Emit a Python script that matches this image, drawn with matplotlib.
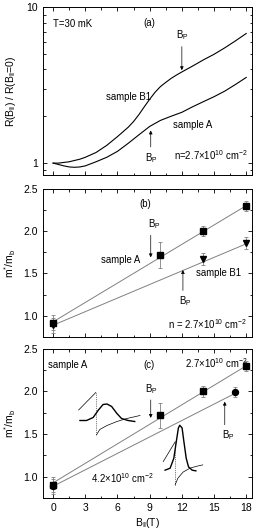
import matplotlib
matplotlib.use('Agg')
import matplotlib.pyplot as plt
import numpy as np
from matplotlib.ticker import MultipleLocator, FixedLocator, NullFormatter, LogLocator

plt.rcParams['font.family'] = ['Liberation Sans', 'DejaVu Sans']
plt.rcParams['mathtext.fontset'] = 'custom'
plt.rcParams['mathtext.rm'] = 'Liberation Sans'
plt.rcParams['mathtext.it'] = 'Liberation Sans'

# (a) resistance ratio vs parallel field
b_a = [0, 0.5, 1, 1.5, 2, 2.5, 3, 4, 5, 6, 7, 7.5, 8, 8.5, 9, 9.5, 10, 10.5, 11, 11.5, 12, 13, 14, 15, 16, 17, 18]
r_b1 = [1.0, 1.0, 1.01, 1.02, 1.04, 1.06, 1.09, 1.17, 1.30, 1.48, 1.70, 1.85, 2.05, 2.30, 2.57, 2.85, 3.1, 3.3, 3.5, 3.68, 3.85, 4.2, 4.6, 5.0, 5.5, 6.1, 6.8]
b_a2 = [0, 0.5, 1, 1.5, 2, 2.5, 3, 4, 5, 6, 7, 8, 9, 10, 11, 12, 13, 14, 15, 16, 17, 18]
r_a = [1.0, 0.98, 0.96, 0.945, 0.94, 0.945, 0.96, 1.02, 1.09, 1.19, 1.34, 1.52, 1.72, 1.88, 2.0, 2.12, 2.3, 2.48, 2.67, 2.9, 3.2, 3.55]

# (b) effective mass, n = 2.7e10
bA = [0, 10, 14, 18]
mA = [0.92, 1.72, 2.0, 2.3]
eA = [0.09, 0.15, 0.06, 0.06]
bB1 = [0, 14, 18]
mB1 = [0.89, 1.67, 1.86]
eB1 = [0.09, 0.07, 0.07]
fitA_x = [0, 18]
fitA_y = [0.93, 2.3]
fitB1_x = [0, 18]
fitB1_y = [0.89, 1.85]

# (c) sample A, two densities
b27 = [0, 10, 14, 18]
m27 = [0.91, 1.72, 2.0, 2.3]
e27 = [0.09, 0.15, 0.06, 0.06]
b42 = [0, 17]
m42 = [0.89, 1.99]
e42 = [0.09, 0.06]
fit27_x = [0, 18]
fit27_y = [0.93, 2.3]
fit42_x = [0, 17]
fit42_y = [0.89, 1.98]

# inset sketches (local 0..1 coords)
s1_diag = ([0.04, 0.30], [0.56, 0.91])
s1_dot = ([0.30, 0.30], [0.91, 0.06])
s1_peak = ([0.06, 0.16, 0.26, 0.34, 0.41, 0.47, 0.54, 0.62, 0.69, 0.79, 0.89],
           [0.35, 0.35, 0.41, 0.56, 0.67, 0.68, 0.63, 0.49, 0.39, 0.35, 0.33])
s1_low = ([0.31, 0.36, 0.47, 0.62, 0.77, 0.97], [0.06, 0.17, 0.25, 0.33, 0.39, 0.45])
s2_diag = ([0.07, 0.33], [0.40, 0.70])
s2_dot = ([0.33, 0.33], [0.70, 0.05])
s2_peak = ([0.11, 0.22, 0.30, 0.36, 0.40, 0.43, 0.48, 0.52, 0.57, 0.62, 0.70, 0.78],
           [0.27, 0.30, 0.45, 0.73, 0.91, 0.95, 0.91, 0.70, 0.45, 0.32, 0.27, 0.26])
s2_low = ([0.33, 0.39, 0.50, 0.65, 0.80, 0.93], [0.05, 0.15, 0.24, 0.30, 0.33, 0.35])

fs_tick = 7.5
fs_lab = 7.5
fs_txt = 6.9
gray = '#808080'

fig = plt.figure(figsize=(2.57, 5.30), dpi=100)
ax1 = fig.add_axes([0.167, 0.670, 0.814, 0.316])
ax2 = fig.add_axes([0.167, 0.364, 0.814, 0.280])
ax3 = fig.add_axes([0.167, 0.060, 0.814, 0.282])

for ax in (ax1, ax2, ax3):
    ax.set_xlim(-0.95, 18.55)
    ax.xaxis.set_major_locator(MultipleLocator(3))
    ax.xaxis.set_minor_locator(MultipleLocator(1.5))
    ax.tick_params(which='both', direction='in', top=True, right=True, labelsize=fs_tick, width=0.6)
    ax.tick_params(which='major', length=3)
    ax.tick_params(which='minor', length=1.8)
    for sp in ax.spines.values():
        sp.set_linewidth(0.7)

arrow = dict(arrowstyle='-|>', lw=0.5, color='black', mutation_scale=5, shrinkA=0, shrinkB=0)

# panel a
ax1.set_yscale('log')
ax1.plot(b_a, r_b1, color='black', lw=0.8)
ax1.plot(b_a2, r_a, color='black', lw=0.8)
ax1.set_ylim(0.84, 10)
ax1.yaxis.set_major_locator(FixedLocator([1, 10]))
ax1.set_yticklabels(['1', '10'])
ax1.yaxis.set_minor_locator(LogLocator(base=10, subs=np.arange(2, 10)))
ax1.yaxis.set_minor_formatter(NullFormatter())
ax1.set_xticklabels([])
ax1.set_ylabel(r'R(B$_{\|}$) / R(B$_{\|}$=0)', fontsize=fs_lab, labelpad=6)
ax1.text(0.0, 7.8, 'T=30 mK', fontsize=fs_txt, va='center')
ax1.text(9.0, 8.0, '(a)', fontsize=fs_txt, ha='center', va='center')
ax1.text(4.9, 2.66, 'sample B1', fontsize=fs_txt, va='center')
ax1.text(11.2, 1.76, 'sample A', fontsize=fs_txt, va='center')
ax1.text(18.1, 1.13, r'n=2.7$\times$10$^{10}$ cm$^{-2}$', fontsize=fs_txt, ha='right', va='center')
ax1.annotate('', xy=(12.0, 3.95), xytext=(12.0, 5.6), arrowprops=arrow)
ax1.text(12.0, 6.0, r'B$_{\rm P}$', fontsize=fs_txt, ha='center', va='bottom')
ax1.annotate('', xy=(9.1, 1.62), xytext=(9.1, 1.27), arrowprops=arrow)
ax1.text(9.2, 1.2, r'B$_{\rm P}$', fontsize=fs_txt, ha='center', va='top')

# panel b
ax2.plot(fitA_x, fitA_y, color=gray, lw=0.7)
ax2.plot(fitB1_x, fitB1_y, color=gray, lw=0.7)
ax2.errorbar(bA, mA, yerr=eA, fmt='s', color='black', ms=4, ecolor=gray, elinewidth=0.6, capsize=1.5, capthick=0.6)
ax2.errorbar(bB1, mB1, yerr=eB1, fmt='v', color='black', ms=4.3, ecolor=gray, elinewidth=0.6, capsize=1.5, capthick=0.6)
ax2.set_ylim(0.75, 2.5)
ax2.yaxis.set_major_locator(MultipleLocator(0.5))
ax2.yaxis.set_minor_locator(MultipleLocator(0.25))
ax2.yaxis.set_major_formatter('{x:.1f}')
ax2.set_xticklabels([])
ax2.set_ylabel(r'm$^{*}$/m$_{\rm b}$', fontsize=fs_lab, labelpad=4)
ax2.text(8.6, 2.32, '(b)', fontsize=fs_txt, ha='center', va='center')
ax2.text(8.1, 1.66, 'sample A', fontsize=fs_txt, ha='right', va='center')
ax2.text(13.3, 1.5, 'sample B1', fontsize=fs_txt, va='center')
ax2.text(18.1, 0.9, r'n = 2.7$\times$10$^{10}$ cm$^{-2}$', fontsize=fs_txt, ha='right', va='center')
ax2.annotate('', xy=(9.1, 1.69), xytext=(9.1, 1.95), arrowprops=arrow)
ax2.text(9.4, 2.0, r'B$_{\rm P}$', fontsize=fs_txt, ha='center', va='bottom')
ax2.annotate('', xy=(12.1, 1.54), xytext=(12.1, 1.3), arrowprops=arrow)
ax2.text(12.3, 1.25, r'B$_{\rm P}$', fontsize=fs_txt, ha='center', va='top')

# panel c
ax3.plot(fit27_x, fit27_y, color=gray, lw=0.7)
ax3.plot(fit42_x, fit42_y, color=gray, lw=0.7)
ax3.errorbar(b27, m27, yerr=e27, fmt='s', color='black', ms=4, ecolor=gray, elinewidth=0.6, capsize=1.5, capthick=0.6)
ax3.errorbar(b42, m42, yerr=e42, fmt='o', color='black', ms=4.3, ecolor=gray, elinewidth=0.6, capsize=1.5, capthick=0.6)
ax3.set_ylim(0.75, 2.5)
ax3.yaxis.set_major_locator(MultipleLocator(0.5))
ax3.yaxis.set_minor_locator(MultipleLocator(0.25))
ax3.yaxis.set_major_formatter('{x:.1f}')
ax3.set_ylabel(r'm$^{*}$/m$_{\rm b}$', fontsize=fs_lab, labelpad=4)
ax3.set_xlabel(r'B$_{\|}$(T)', fontsize=fs_lab, labelpad=2)
ax3.text(-0.5, 2.31, 'sample A', fontsize=fs_txt, va='center')
ax3.text(8.9, 2.31, '(c)', fontsize=fs_txt, ha='center', va='center')
ax3.text(18.1, 2.33, r'2.7$\times$10$^{10}$ cm$^{-2}$', fontsize=fs_txt, ha='right', va='center')
ax3.text(3.5, 0.99, r'4.2$\times$10$^{10}$ cm$^{-2}$', fontsize=fs_txt, va='center')
ax3.annotate('', xy=(9.1, 1.69), xytext=(9.1, 1.9), arrowprops=arrow)
ax3.text(9.2, 1.95, r'B$_{\rm P}$', fontsize=fs_txt, ha='center', va='bottom')
ax3.annotate('', xy=(16.0, 1.88), xytext=(16.0, 1.61), arrowprops=arrow)
ax3.text(16.3, 1.57, r'B$_{\rm P}$', fontsize=fs_txt, ha='center', va='top')

# sketches
W, H = 257.0, 530.0
def sketch(px, py_bot, pw, ph, diag, dot, peak, low):
    ins = fig.add_axes([px / W, 1 - py_bot / H, pw / W, ph / H])
    ins.set_xlim(0, 1)
    ins.set_ylim(0, 1)
    ins.axis('off')
    ins.plot(*diag, color='black', lw=0.5)
    ins.plot(*dot, color='black', lw=0.5, ls=':')
    ins.plot(*peak, color='black', lw=1.0)
    ins.plot(*low, color='black', lw=0.5)

sketch(76, 438, 66, 50, s1_diag, s1_dot, s1_peak, s1_low)
sketch(160, 488, 46, 66, s2_diag, s2_dot, s2_peak, s2_low)

fig.savefig('out.png', dpi=100)
